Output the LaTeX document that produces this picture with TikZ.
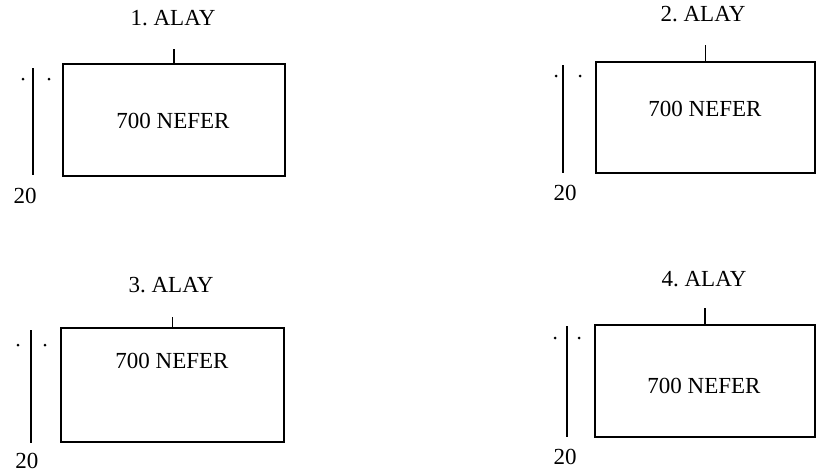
\documentclass[tikz,border=0pt]{standalone}
\usepackage{fontspec}
\setmainfont{Liberation Serif}
\begin{document}
\begin{tikzpicture}[x=1pt,y=-1pt,
  every node/.style={inner sep=0pt,outer sep=0pt},
  txt/.style={font=\fontsize{23}{27}\selectfont},
  ln/.style={line width=1.1pt,black},
  dotmark/.style={circle,fill=black,minimum size=3pt}]
\useasboundingbox (0,0) rectangle (816,472);
% Block 1
\node[draw,ln,minimum width=222pt,minimum height=112pt] (b1) at (174,120) {};
\node[txt] (t1) at (173,121) {700 NEFER};
\node[txt] (h1) at (173,18) {1.~ALAY};
\coordinate (k1) at (174,49);
\draw[ln] (b1.north) -- (k1);
\coordinate (v1a) at (33,68); \coordinate (v1b) at (33,175);
\draw[ln] (v1a) -- (v1b);
\node[dotmark] (d1a) at (23,79) {};
\node[dotmark] (d1b) at (49,79) {};
\node[txt] (n1) at (25,196) {20};
% Block 2
\node[draw,ln,minimum width=219pt,minimum height=111pt] (b2) at (705.5,117.5) {};
\node[txt] (t2) at (705,109) {700 NEFER};
\node[txt] (h2) at (703,14) {2.~ALAY};
\coordinate (k2) at (705.5,45);
\draw[ln] (b2.north) -- (k2);
\coordinate (v2a) at (563,65); \coordinate (v2b) at (563,173);
\draw[ln] (v2a) -- (v2b);
\node[dotmark] (d2a) at (556,76) {};
\node[dotmark] (d2b) at (580,76) {};
\node[txt] (n2) at (565,193) {20};
% Block 3
\node[draw,ln,minimum width=223pt,minimum height=114pt] (b3) at (172.5,385) {};
\node[txt] (t3) at (172,361) {700 NEFER};
\node[txt] (h3) at (171,285) {3.~ALAY};
\coordinate (k3) at (172.5,317);
\draw[ln] (b3.north) -- (k3);
\coordinate (v3a) at (31,330); \coordinate (v3b) at (31,443);
\draw[ln] (v3a) -- (v3b);
\node[dotmark] (d3a) at (18,345) {};
\node[dotmark] (d3b) at (45,345) {};
\node[txt] (n3) at (27,461) {20};
% Block 4
\node[draw,ln,minimum width=220pt,minimum height=112pt] (b4) at (705,381) {};
\node[txt] (t4) at (704,386) {700 NEFER};
\node[txt] (h4) at (704,279.5) {4.~ALAY};
\coordinate (k4) at (705,308);
\draw[ln] (b4.north) -- (k4);
\coordinate (v4a) at (567,326); \coordinate (v4b) at (567,437);
\draw[ln] (v4a) -- (v4b);
\node[dotmark] (d4a) at (555,338) {};
\node[dotmark] (d4b) at (579,338) {};
\node[txt] (n4) at (565,457) {20};
\end{tikzpicture}
\end{document}
